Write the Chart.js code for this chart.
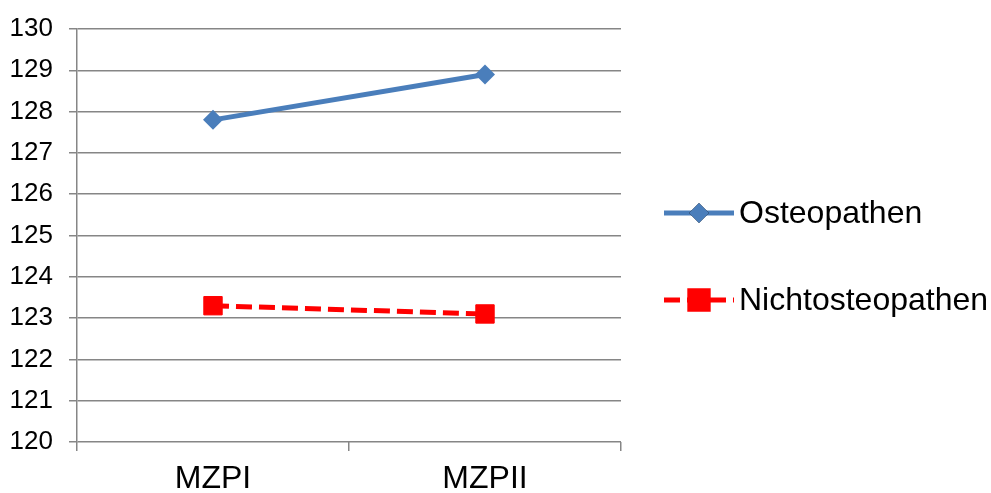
<!DOCTYPE html>
<html>
<head>
<meta charset="utf-8">
<script src="https://cdn.jsdelivr.net/npm/chart.js@4/dist/chart.umd.min.js"></script>
<style>
  html, body { margin:0; padding:0; background:#fff; }
  #wrap { width:991px; height:493px; position:relative; }
</style>
</head>
<body>
<div id="wrap"><canvas id="c"></canvas></div>
<script>
// chart data
const categories = ['MZPI', 'MZPII'];
const seriesNames = ['Osteopathen', 'Nichtosteopathen'];
const osteoValues = [127.8, 128.9];
const nichtValues = [123.3, 123.1];
const yMin = 120, yMax = 130, yStep = 1;

const GRID = '#868686';
const FONT = 'Liberation Sans, Arial, sans-serif';

// legend drawn on the right side, marker sitting on a short line
const sideLegend = {
  id: 'sideLegend',
  afterDraw(chart){
    const ctx = chart.ctx;
    const rows = [213, 300];
    chart.data.datasets.forEach((ds, i) => {
      const y = rows[i];
      ctx.save();
      ctx.strokeStyle = ds.borderColor; ctx.lineWidth = ds.borderWidth;
      ctx.setLineDash(ds.borderDash || []);
      ctx.beginPath(); ctx.moveTo(664, y); ctx.lineTo(734, y); ctx.stroke();
      ctx.setLineDash([]);
      Chart.helpers.drawPoint(ctx, {
        pointStyle: ds.pointStyle, radius: ds.pointRadius, rotation: 0,
        borderWidth: ds.pointBorderWidth || 0
      }, 699, y);
      ctx.fillStyle = ds.pointBackgroundColor; ctx.fill();
      if (ds.pointBorderWidth) { ctx.strokeStyle = ds.pointBorderColor; ctx.lineWidth = ds.pointBorderWidth; ctx.stroke(); }
      ctx.fillStyle = '#000';
      ctx.font = '32px ' + FONT;
      ctx.textBaseline = 'middle';
      ctx.fillText(ds.label, 739, y + 1);
      ctx.restore();
    });
  }
};

new Chart(document.getElementById('c'), {
  type: 'line',
  data: {
    labels: categories,
    datasets: [
      { label: seriesNames[0], data: osteoValues, borderColor: '#4A7EBB', backgroundColor: '#4A7EBB',
        borderWidth: 5, pointStyle: 'rectRot', pointRadius: 10, pointBackgroundColor: '#4A7EBB',
        pointBorderColor: '#4A7EBB', pointBorderWidth: 0, tension: 0 },
      { label: seriesNames[1], data: nichtValues, borderColor: '#FF0000', backgroundColor: '#FF0000',
        borderWidth: 5, borderDash: [16, 7], pointStyle: 'rect', pointRadius: 13, pointBackgroundColor: '#FF0000',
        pointBorderColor: '#FF0000', pointBorderWidth: 1, tension: 0 }
    ]
  },
  options: {
    responsive: true, maintainAspectRatio: false, animation: false,
    layout: { padding: { top: 28, right: 370, left: 0, bottom: 0 } },
    plugins: { legend: { display: false }, tooltip: { enabled: false } },
    scales: {
      x: {
        offset: true,
        grid: { offset: true, drawOnChartArea: false, drawTicks: true, tickLength: 9, color: GRID, lineWidth: 1.5 },
        border: { display: false },
        ticks: { color: '#000', font: { family: FONT, size: 32 }, padding: 9 },
        afterFit(s){ s.height = 51; }
      },
      y: {
        min: yMin, max: yMax,
        grid: { color: GRID, lineWidth: 1.5, drawTicks: true, tickLength: 8 },
        border: { display: true, color: GRID, width: 1.5 },
        ticks: { stepSize: yStep, color: '#000', font: { family: FONT, size: 26, lineHeight: 1 }, padding: 16 },
        afterFit(s){ s.width = 77; }
      }
    }
  },
  plugins: [sideLegend]
});
</script>
</body>
</html>
